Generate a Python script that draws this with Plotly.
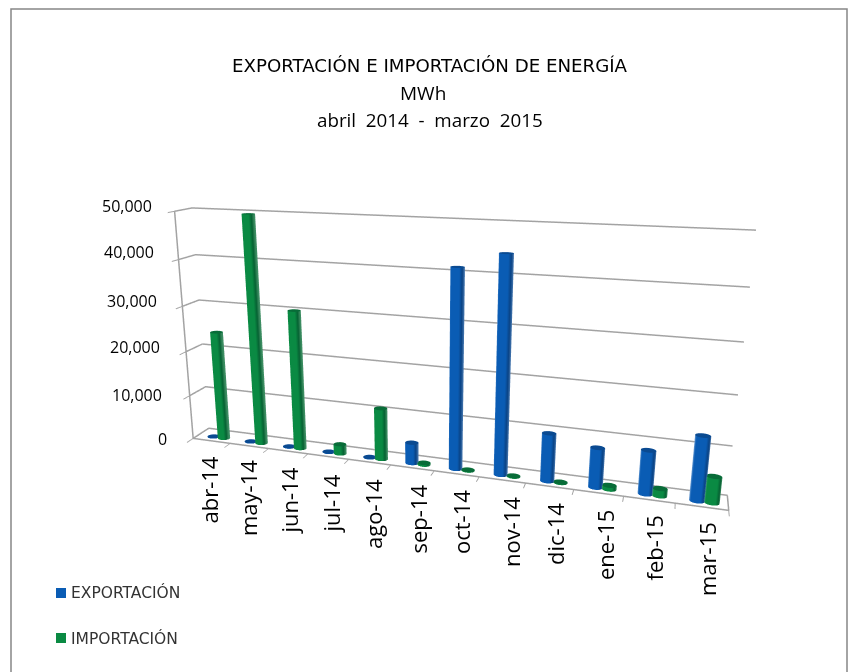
import numpy as np
import plotly.graph_objects as go

categories = ["abr-14","may-14","jun-14","jul-14","ago-14","sep-14","oct-14","nov-14","dic-14","ene-15","feb-15","mar-15"]
exportacion = [100,100,100,100,100,4500,41400,44500,10000,8200,8900,13000]
importacion = [24300,49800,30400,2100,11200,400,150,150,150,800,1500,5300]
y_ticks = [0,10000,20000,30000,40000,50000]
y_tick_text = ["0","10,000","20,000","30,000","40,000","50,000"]
W,H = 851,672

E=np.array([0.6184,-2.0798,0.63]);C=np.array([0.6082,-2.0476,0.6207]);A=np.array([1.58,0.0892,0.7082])

def mix(a,b,t):
    return tuple(a[i]+(b[i]-a[i])*t for i in range(3))
def shade(s,base,dark,light):
    if s<-0.85: return mix(light,base,(s+1)/.15)
    if s<0.45: return base
    if s<0.8: return mix(base,dark,(s-.45)/.35)
    return mix(dark,light,(s-.8)/.2*.5)
def cylinders(vals,offset,base,dark,light,cap):
    n=28;d=0.30;rx=d/2;ry=rx*(A[0]/12)/A[1]*.8
    X=[];Y=[];Z=[];I=[];J=[];K=[];VC=[]
    ang=np.linspace(0,2*np.pi,n,endpoint=False)
    for i,v in enumerate(vals):
        cx=i+.5+offset;cy=.35
        b=len(X)
        for a in ang:
            X+= [cx+rx*np.cos(a)]*2;Y+=[cy+ry*np.sin(a)]*2;Z+=[0,v]
            col=shade(np.cos(a),base,dark,light)
            VC+=[f"rgb({col[0]:.0f},{col[1]:.0f},{col[2]:.0f})"]*2
        for j in range(n):
            a0=b+2*j;a1=b+2*((j+1)%n)
            I+=[a0,a1];J+=[a1,a1+1];K+=[a0+1,a0+1]
        t=len(X)
        X.append(cx);Y.append(cy);Z.append(v);VC.append(f"rgb{cap}")
        for a in ang:
            X.append(cx+rx*np.cos(a));Y.append(cy+ry*np.sin(a));Z.append(v);VC.append(f"rgb{cap}")
        for j in range(n):
            I.append(t);J.append(t+1+j);K.append(t+1+(j+1)%n)
    return X,Y,Z,I,J,K,VC

fig=go.Figure()
gc="#a3a3a3"
for v in y_ticks:
    fig.add_trace(go.Scatter3d(x=[0,0,12],y=[0,1,1],z=[v,v,v],mode="lines",line=dict(color=gc,width=3),hoverinfo="skip",showlegend=False))
fig.add_trace(go.Scatter3d(x=[0,12,12,0,0],y=[0,0,1,1,0],z=[0,0,0,0,0],mode="lines",line=dict(color=gc,width=3),hoverinfo="skip",showlegend=False))
fig.add_trace(go.Scatter3d(x=[0,0],y=[0,0],z=[0,50000],mode="lines",line=dict(color=gc,width=3),hoverinfo="skip",showlegend=False))
for name,vals,off,base,dark,light,cap in [
    ("EXPORTACIÓN",exportacion,-.09,(10,92,180),(10,66,130),(120,165,215),(10,74,145)),
    ("IMPORTACIÓN",importacion,.19,(10,138,67),(6,96,50),(120,190,150),(8,108,56))]:
    x,y,z,i,j,k,vc=cylinders(vals,off,base,dark,light,cap)
    fig.add_trace(go.Mesh3d(x=x,y=y,z=z,i=i,j=j,k=k,vertexcolor=vc,name=name,
        lighting=dict(ambient=1,diffuse=0,specular=0,roughness=1,fresnel=0),flatshading=False,hoverinfo="name"))
fig.update_layout(width=W,height=H,margin=dict(l=0,r=0,t=0,b=0),paper_bgcolor="white",showlegend=False,
    scene=dict(domain=dict(x=[0,1],y=[0,1]),aspectmode="manual",aspectratio=dict(x=A[0],y=A[1],z=A[2]),
        camera=dict(eye=dict(x=E[0],y=E[1],z=E[2]),center=dict(x=C[0],y=C[1],z=C[2]),up=dict(x=0,y=0,z=1),
                    projection=dict(type="perspective")),
        xaxis=dict(range=[0,12],tickvals=list(range(13)),showticklabels=False,title="",showgrid=False,zeroline=False,
                   showline=False,ticks="outside",ticklen=8,tickcolor=gc,tickwidth=2,showbackground=False,showspikes=False),
        yaxis=dict(range=[0,1],tickvals=[],showticklabels=False,title="",showgrid=False,zeroline=False,
                   showline=False,showbackground=False,showspikes=False),
        zaxis=dict(range=[0,50000],tickvals=y_ticks,showticklabels=False,title="",showgrid=False,zeroline=False,
                   showline=False,ticks="outside",ticklen=8,tickcolor=gc,tickwidth=2,showbackground=False,showspikes=False)))
def note(px,py,text,size,xa="center",ya="middle",angle=0,color="black",font="Open Sans"):
    fig.add_annotation(x=px/W,y=1-py/H,xref="paper",yref="paper",text=text,showarrow=False,xanchor=xa,yanchor=ya,
        textangle=angle,font=dict(family=font,size=size,color=color),borderpad=0,borderwidth=0)
note(430,65,"EXPORTACIÓN E IMPORTACIÓN DE ENERGÍA",18.2,font="DejaVu Sans")
note(423,93,"MWh",19)
note(430,120,"abril  2014  -  marzo  2015",18.8)
for t,(rx,ry) in zip(y_tick_text,[(167,439),(162,395),(160,347),(157,301),(154,252),(152,206)]):
    note(rx,ry,t,16,xa="right")
for t,(cx,ty) in zip(categories,[(208,457),(248,460),(288,468),(330,475),(373,479),(417,485),(461,490),(511,497),(555,503),(605,510),(653,516),(707,522)]):
    note(cx,ty,t,22,ya="top",angle=-90)
note(71,592,"EXPORTACIÓN",15.5,xa="left",color="#333333",font="DejaVu Sans")
note(71,638,"IMPORTACIÓN",15.5,xa="left",color="#333333",font="DejaVu Sans")
fig.add_shape(type="rect",xref="paper",yref="paper",x0=56/W,x1=66/W,y0=1-598/H,y1=1-588/H,fillcolor="#0a5cb4",line_width=0)
fig.add_shape(type="rect",xref="paper",yref="paper",x0=56/W,x1=66/W,y0=1-643/H,y1=1-633/H,fillcolor="#0a8a43",line_width=0)
fig.add_shape(type="rect",xref="paper",yref="paper",x0=11/W,x1=847/W,y0=-0.1,y1=1-9/H,line=dict(color="#868686",width=1.5),fillcolor="rgba(0,0,0,0)")
fig.write_html("out.html",config=dict(displayModeBar=False),post_script="document.body.style.margin='0';document.documentElement.style.overflow='hidden';")
